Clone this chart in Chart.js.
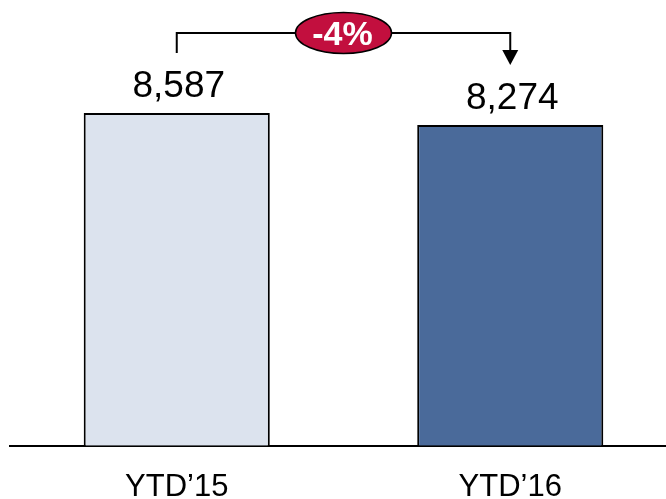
<!DOCTYPE html>
<html>
<head>
<meta charset="utf-8">
<script src="https://cdn.jsdelivr.net/npm/chart.js@4/dist/chart.umd.min.js"></script>
<style>
  html, body { margin: 0; padding: 0; background: #fff; overflow: hidden; }
  #wrap { width: 680px; height: 535px; }
</style>
</head>
<body>
<div id="wrap"><canvas id="c" width="680" height="535"></canvas></div>
<script>
// Year-to-date totals
const categories = ['YTD\u201915', 'YTD\u201916'];
const values = [8587, 8274];
const barColors = ['#DCE3EE', '#4A6A9A'];

const FONT = 'Arial, "Liberation Sans", sans-serif';

// Value labels above each bar
const valueLabels = {
  id: 'valueLabels',
  afterDatasetsDraw(chart) {
    const ctx = chart.ctx;
    const meta = chart.getDatasetMeta(0);
    ctx.save();
    ctx.fillStyle = '#000';
    ctx.font = '37px ' + FONT;
    ctx.textAlign = 'center';
    ctx.textBaseline = 'alphabetic';
    meta.data.forEach((bar, i) => {
      ctx.fillText(values[i].toLocaleString('en-US'), bar.x + 2, bar.y - 16);
    });
    ctx.restore();
  }
};

// Bracket arrow from the first bar to the second with the percentage change
const changeCallout = {
  id: 'changeCallout',
  afterDatasetsDraw(chart) {
    const ctx = chart.ctx;
    const meta = chart.getDatasetMeta(0);
    const x1 = meta.data[0].x;
    const x2 = meta.data[1].x;
    const yTop = 33;
    ctx.save();
    ctx.strokeStyle = '#000';
    ctx.lineWidth = 2;
    ctx.beginPath();
    ctx.moveTo(x1, 53);
    ctx.lineTo(x1, yTop);
    ctx.lineTo(x2, yTop);
    ctx.lineTo(x2, 52);
    ctx.stroke();
    ctx.fillStyle = '#000';
    ctx.beginPath();
    ctx.moveTo(x2 - 8, 50);
    ctx.lineTo(x2 + 8, 50);
    ctx.lineTo(x2, 65);
    ctx.closePath();
    ctx.fill();

    const cx = (x1 + x2) / 2;
    ctx.beginPath();
    ctx.ellipse(cx, yTop, 48, 20.5, 0, 0, Math.PI * 2);
    ctx.fillStyle = '#C20F3E';
    ctx.fill();
    ctx.lineWidth = 1.5;
    ctx.strokeStyle = '#000';
    ctx.stroke();

    const pct = Math.round((values[1] - values[0]) / values[0] * 100);
    ctx.fillStyle = '#fff';
    ctx.font = 'bold 34px ' + FONT;
    ctx.textAlign = 'center';
    ctx.textBaseline = 'middle';
    ctx.fillText((pct > 0 ? '+' : '') + pct + '%', cx - 1, yTop + 3);
    ctx.restore();
  }
};

new Chart(document.getElementById('c'), {
  type: 'bar',
  data: {
    labels: categories,
    datasets: [{
      data: values,
      backgroundColor: barColors,
      borderColor: '#000',
      borderWidth: 2,
      borderSkipped: 'bottom',
      barPercentage: 0.558,
      categoryPercentage: 1
    }]
  },
  options: {
    responsive: false,
    animation: false,
    layout: { padding: { left: 10, right: 3, top: 0, bottom: 6 } },
    plugins: {
      legend: { display: false },
      tooltip: { enabled: false }
    },
    scales: {
      y: {
        display: false,
        min: 0,
        max: 11500
      },
      x: {
        grid: { display: false, drawTicks: false },
        border: { display: true, color: '#000', width: 2 },
        ticks: {
          color: '#000',
          padding: 23,
          font: { family: FONT, size: 31, lineHeight: 1.2 }
        }
      }
    }
  },
  plugins: [valueLabels, changeCallout]
});
</script>
</body>
</html>
